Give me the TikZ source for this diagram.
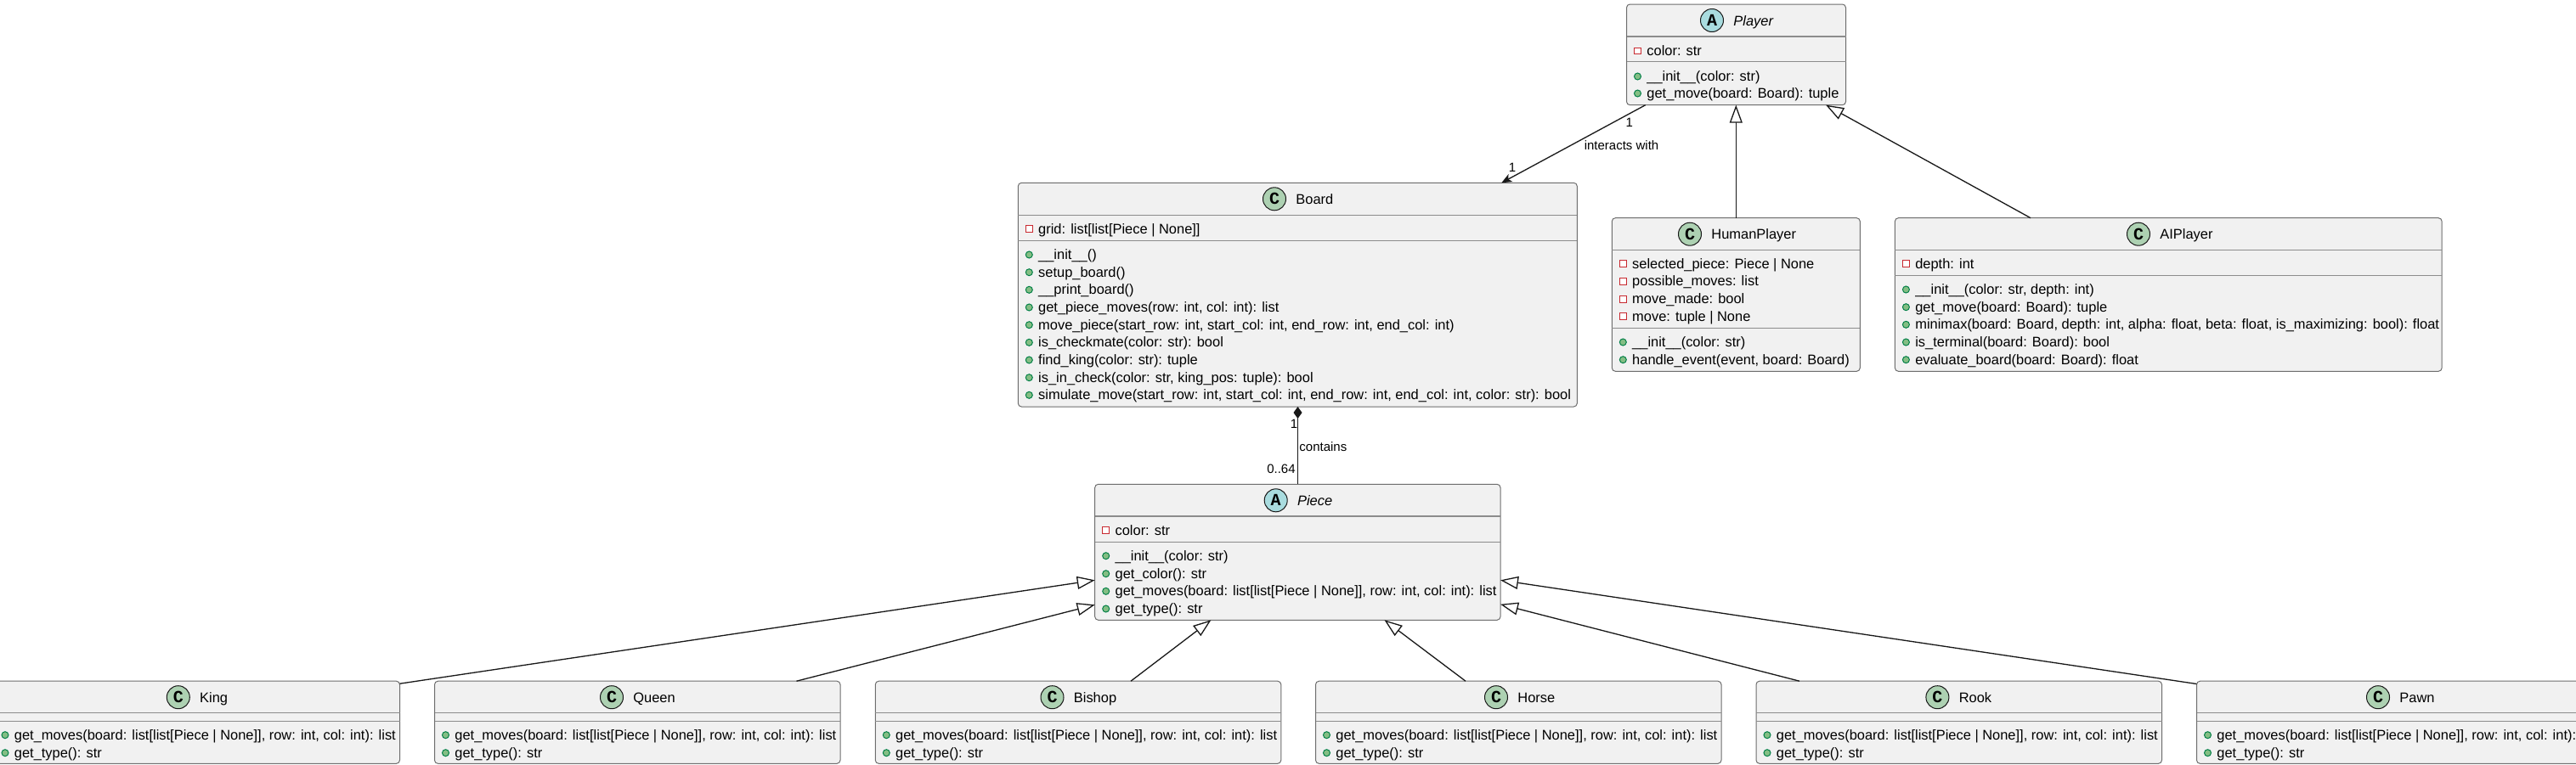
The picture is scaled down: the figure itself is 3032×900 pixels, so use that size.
\documentclass[tikz,border=0pt]{standalone}
\usepackage{fontspec}
\setmainfont{Liberation Sans}
\newfontfamily\iconfont{Liberation Mono}
\usetikzlibrary{arrows.meta}
\usetikzlibrary{calc}
\definecolor{mfill}{RGB}{241, 241, 241}
\definecolor{mborder}{RGB}{110, 110, 110}
\definecolor{mdiv}{RGB}{140, 140, 140}
\definecolor{mline}{RGB}{24, 24, 24}
\definecolor{mgreen}{RGB}{173, 209, 178}
\definecolor{mcyan}{RGB}{169, 220, 223}
\definecolor{mred}{RGB}{200, 41, 48}
\definecolor{mpub}{RGB}{132, 190, 132}
\definecolor{mpubline}{RGB}{3, 128, 72}
\tikzset{classbox/.style = {draw = mborder, fill = mfill, line width = 0.5pt, rounded corners = 2pt, inner sep = 0, outer sep = 0, anchor = north west}}
\tikzset{divline/.style = {draw = mdiv, line width = 0.55pt}}
\tikzset{classicon/.style = {draw = mline, circle, inner sep = 0, minimum size = 13.5pt, line width = 0.5pt, font = \iconfont\bfseries\fontsize{10}{10}\selectfont}}
\tikzset{classname/.style = {anchor = base west, inner sep = 0, font = \fontsize{8.22}{10}\selectfont}}
\tikzset{rowtext/.style = {anchor = base west, inner sep = 0, font = \fontsize{8.22}{10}\selectfont}}
\tikzset{linklabel/.style = {inner sep = 0, font = \fontsize{7.5}{9}\selectfont}}
\tikzset{privmark/.style = {draw = mred, fill = white, inner sep = 0, minimum size = 3.8pt, line width = 0.5pt}}
\tikzset{pubmark/.style = {draw = mpubline, fill = mpub, circle, inner sep = 0, minimum size = 4pt, line width = 0.5pt}}
\tikzset{inherit/.style = {draw = mline, line width = 0.65pt, -{Triangle[open, fill = white, length = 10.5pt, width = 7.5pt]}}}
\tikzset{assoc/.style = {draw = mline, line width = 0.65pt, -{Stealth[length = 6pt, width = 5pt, inset = 1.5pt]}}}
\tikzset{compos/.style = {draw = mline, line width = 0.65pt, {Diamond[length = 7pt, width = 5pt]}-}}
% name, x, y, width, height, first divider, second divider
\newcommand{\umlclass}[7]{
    \node [classbox, minimum width = #4*0.5pt, minimum height = #5*0.5pt] (#1) at (#2, #3) {};
    \draw [divline] (#2, #6) -- (#2 + #4, #6);
    \draw [divline] (#2, #7) -- (#2 + #4, #7);
}
% name, icon x, top of box, letter, colour, title
\newcommand{\umltitle}[6]{
    \node [classicon, fill = #5] (#1icon) at (#2, #3 + 19) {#4};
    \node [classname] (#1title) at (#2 + 25, #3 + 25) {#6};
}
% name, x of box, y of row, text
\newcommand{\privrow}[4]{
    \node [privmark] (#1mark) at (#2 + 13, #3) {};
    \node [rowtext] (#1text) at (#2 + 23.5, #3 + 5.5) {#4};
}
\newcommand{\pubrow}[4]{
    \node [pubmark] (#1mark) at (#2 + 13, #3) {};
    \node [rowtext] (#1text) at (#2 + 23.5, #3 + 5.5) {#4};
}
\begin{document}
\begin{tikzpicture}[x = 0.5pt, y = -0.5pt]
    \path [use as bounding box, clip] (0, 0) rectangle (3032, 900);
    \fill [white] (0, 0) rectangle (3032, 900);
    % Player
    \umlclass{player}{1914.5}{5}{258}{118.7}{43}{72.7}
    \umltitle{player}{2015}{5}{A}{mcyan}{\itshape Player}
    \privrow{playerf}{1914.5}{60}{color: str}
    \pubrow{playerma}{1914.5}{90}{\_\_init\_\_(color: str)}
    \pubrow{playermb}{1914.5}{110}{get\_move(board: Board): tuple}
    % Board
    \umlclass{board}{1198.3}{215.3}{658}{263.7}{253.3}{283.3}
    \umltitle{board}{1500}{215.3}{C}{mgreen}{Board}
    \privrow{boardf}{1198.3}{269.7}{grid: list[list[Piece | None]]}
    \pubrow{boardma}{1198.3}{300}{\_\_init\_\_()}
    \pubrow{boardmb}{1198.3}{320.7}{setup\_board()}
    \pubrow{boardmc}{1198.3}{341.3}{\_\_print\_board()}
    \pubrow{boardmd}{1198.3}{362}{get\_piece\_moves(row: int, col: int): list}
    \pubrow{boardme}{1198.3}{382.7}{move\_piece(start\_row: int, start\_col: int, end\_row: int, end\_col: int)}
    \pubrow{boardmf}{1198.3}{403.3}{is\_checkmate(color: str): bool}
    \pubrow{boardmg}{1198.3}{424}{find\_king(color: str): tuple}
    \pubrow{boardmh}{1198.3}{444.7}{is\_in\_check(color: str, king\_pos: tuple): bool}
    \pubrow{boardmi}{1198.3}{465.3}{simulate\_move(start\_row: int, start\_col: int, end\_row: int, end\_col: int, color: str): bool}
    % HumanPlayer
    \umlclass{human}{1897.3}{256.7}{292}{180.6}{294.3}{386.3}
    \umltitle{human}{1989}{256.7}{C}{mgreen}{HumanPlayer}
    \privrow{humanfa}{1897.3}{310.7}{selected\_piece: Piece | None}
    \privrow{humanfb}{1897.3}{331.3}{possible\_moves: list}
    \privrow{humanfc}{1897.3}{352.3}{move\_made: bool}
    \privrow{humanfd}{1897.3}{372.7}{move: tuple | None}
    \pubrow{humanma}{1897.3}{403}{\_\_init\_\_(color: str)}
    \pubrow{humanmb}{1897.3}{423.7}{handle\_event(event, board: Board)}
    % AIPlayer
    \umlclass{ai}{2230.4}{256.7}{643.7}{180.6}{294.3}{324.3}
    \umltitle{ai}{2517}{256.7}{C}{mgreen}{AIPlayer}
    \privrow{aif}{2230.4}{310.7}{depth: int}
    \pubrow{aima}{2230.4}{341}{\_\_init\_\_(color: str, depth: int)}
    \pubrow{aimb}{2230.4}{361.7}{get\_move(board: Board): tuple}
    \pubrow{aimc}{2230.4}{382.3}{minimax(board: Board, depth: int, alpha: float, beta: float, is\_maximizing: bool): float}
    \pubrow{aimd}{2230.4}{403}{is\_terminal(board: Board): bool}
    \pubrow{aime}{2230.4}{423.7}{evaluate\_board(board: Board): float}
    % Piece
    \umlclass{piece}{1288.7}{570.3}{477.3}{160}{608}{638.3}
    \umltitle{piece}{1501.7}{570.3}{A}{mcyan}{\itshape Piece}
    \privrow{piecef}{1288.7}{624.7}{color: str}
    \pubrow{piecema}{1288.7}{654.7}{\_\_init\_\_(color: str)}
    \pubrow{piecemb}{1288.7}{675.7}{get\_color(): str}
    \pubrow{piecemc}{1288.7}{696.3}{get\_moves(board: list[list[Piece | None]], row: int, col: int): list}
    \pubrow{piecemd}{1288.7}{717}{get\_type(): str}
    % the six pieces
    \foreach \pname/\px/\ix in {King/-7/209.8, Queen/511.5/720, Bishop/1030.3/1238.5, Horse/1548.5/1761, Rook/2067/2280.4, Pawn/2585.5/2799} {
        \umlclass{\pname}{\px}{802.2}{477.5}{97.1}{839.7}{849.3}
        \umltitle{\pname}{\ix}{802.2}{C}{mgreen}{\pname}
        \pubrow{\pname ma}{\px}{865.7}{get\_moves(board: list[list[Piece | None]], row: int, col: int): list}
        \pubrow{\pname mb}{\px}{886.7}{get\_type(): str}
    }
    % links
    \draw [assoc] ($(player.south west) + (22.2, 0)$) -- ($(board.north east) + (-89, 0)$);
    \draw [inherit] ($(human.north west) + (146, 0)$) -- ($(player.south west) + (128.8, 0)$);
    \draw [inherit] ($(ai.north west) + (159.6, 0)$) -- ($(player.south east) + (-23.4, 0)$);
    \draw [compos] ($(board.south west) + (329.2, 0)$) -- ($(piece.north west) + (238.8, 0)$);
    \draw [inherit] ($(King.north east) + (0, 3)$) -- ($(piece.south west) + (0, -47)$);
    \draw [inherit] ($(Queen.north east) + (-51.5, 0)$) -- ($(piece.south west) + (0, -18)$);
    \draw [inherit] ($(Bishop.north west) + (300.7, 0)$) -- ($(piece.south west) + (136.7, 0)$);
    \draw [inherit] ($(Horse.north west) + (176.5, 0)$) -- ($(piece.south west) + (340.8, 0)$);
    \draw [inherit] ($(Rook.north west) + (51, 0)$) -- ($(piece.south east) + (0, -18.6)$);
    \draw [inherit] ($(Pawn.north west) + (0, 3.3)$) -- ($(piece.south east) + (0, -47)$);
    \node [linklabel] (playerone) at (1917.7, 144) {1};
    \node [linklabel] (interacts) at (1908.5, 171) {interacts with};
    \node [linklabel] (boardone) at (1780, 197.7) {1};
    \node [linklabel] (boardtwo) at (1523, 499) {1};
    \node [linklabel, anchor = west] (contains) at (1529, 526) {contains};
    \node [linklabel, anchor = east] (pieces) at (1525, 552.7) {0..64};
\end{tikzpicture}
\end{document}
